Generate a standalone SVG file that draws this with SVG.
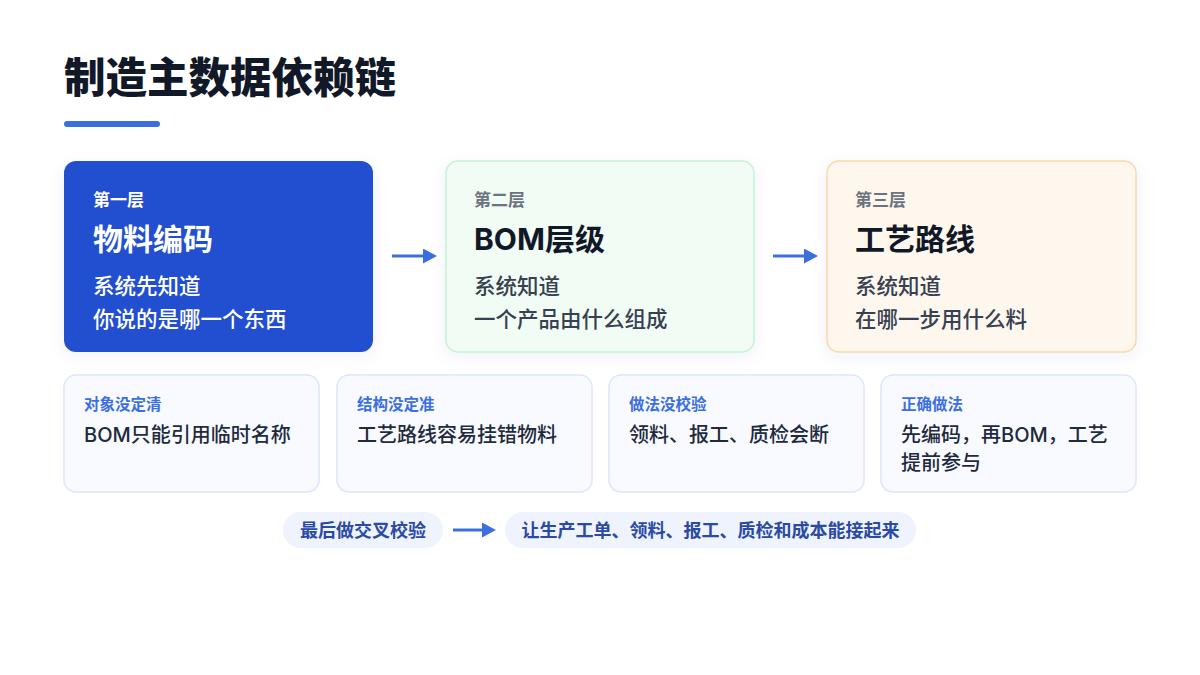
<svg xmlns="http://www.w3.org/2000/svg" width="1200" height="675" viewBox="0 0 1200 675">
<defs>
<style>
text{font-family:"Inter","Noto Sans CJK SC",sans-serif;}
.cjk{font-family:"Noto Sans CJK SC",sans-serif;}
.title{font-size:41.5px;font-weight:900;fill:#111827;}
.lvl{font-size:17px;font-weight:700;}
.head{font-size:30px;font-weight:700;}
.body{font-size:21.5px;font-weight:500;}
.clabel{font-size:15.5px;font-weight:700;fill:#3b6fe0;}
.cbody{font-size:20px;font-weight:500;fill:#1f2a3d;}
.card{fill:#f8faff;stroke:#dbe6fb;stroke-width:1.5;}
.pill{fill:#eef3fd;}
.ptext{font-size:18px;font-weight:700;fill:#2a4aa3;}
.conn{stroke:#3b6fe0;stroke-width:3;fill:none;}
</style>
<marker id="ah" markerWidth="14" markerHeight="15" refX="0" refY="7.5" orient="auto" markerUnits="userSpaceOnUse">
<path d="M0,0 L14,7.5 L0,15 Z" fill="#3b6fe0"/>
</marker>
<filter id="sh" x="-10%" y="-10%" width="120%" height="130%">
<feDropShadow dx="0" dy="4" stdDeviation="8" flood-color="#1e3a8a" flood-opacity="0.06"/>
</filter>
</defs>
<rect width="1200" height="675" fill="#ffffff"/>
<g id="title">
<text class="title cjk" x="64" y="93">制造主数据依赖链</text>
<rect x="64" y="121" width="96" height="6" rx="3" fill="#3b6fe0"/>
</g>
<g id="node-layer1">
<rect x="64" y="161" width="309" height="191" rx="12" fill="#2350cf" filter="url(#sh)"/>
<text class="lvl cjk" x="93" y="206" fill="#ffffff">第一层</text>
<text class="head cjk" x="93" y="250" fill="#ffffff">物料编码</text>
<text class="body cjk" x="93" y="294" fill="#ffffff">系统先知道</text>
<text class="body cjk" x="93" y="327" fill="#ffffff">你说的是哪一个东西</text>
</g>
<g id="node-layer2">
<rect x="446" y="161" width="308" height="191" rx="12" fill="#f1fcf4" stroke="#c6f2d2" stroke-width="1.5" filter="url(#sh)"/>
<text class="lvl cjk" x="474" y="206" fill="#6b7280">第二层</text>
<text class="head" x="474" y="250" fill="#111827">BOM层级</text>
<text class="body cjk" x="474" y="294" fill="#374151">系统知道</text>
<text class="body cjk" x="474" y="327" fill="#374151">一个产品由什么组成</text>
</g>
<g id="node-layer3">
<rect x="827" y="161" width="309" height="191" rx="12" fill="#fef7ee" stroke="#fbd7ab" stroke-width="1.5" filter="url(#sh)"/>
<text class="lvl cjk" x="855" y="206" fill="#6b7280">第三层</text>
<text class="head cjk" x="855" y="250" fill="#111827">工艺路线</text>
<text class="body cjk" x="855" y="294" fill="#374151">系统知道</text>
<text class="body cjk" x="855" y="327" fill="#374151">在哪一步用什么料</text>
</g>
<g id="card1">
<rect class="card" x="64" y="375" width="255" height="117" rx="12"/>
<text class="clabel cjk" x="84" y="410">对象没定清</text>
<text class="cbody" x="84" y="442">BOM只能引用临时名称</text>
</g>
<g id="card2">
<rect class="card" x="337" y="375" width="255" height="117" rx="12"/>
<text class="clabel cjk" x="357" y="410">结构没定准</text>
<text class="cbody cjk" x="357" y="442">工艺路线容易挂错物料</text>
</g>
<g id="card3">
<rect class="card" x="609" y="375" width="255" height="117" rx="12"/>
<text class="clabel cjk" x="629" y="410">做法没校验</text>
<text class="cbody cjk" x="629" y="442">领料、报工、质检会断</text>
</g>
<g id="card4">
<rect class="card" x="881" y="375" width="255" height="117" rx="12"/>
<text class="clabel cjk" x="901" y="410">正确做法</text>
<text class="cbody" x="901" y="442">先编码，再BOM，工艺</text>
<text class="cbody cjk" x="901" y="470">提前参与</text>
</g>
<g id="pill1">
<rect class="pill" x="283" y="512" width="160" height="36" rx="18"/>
<text class="ptext cjk" x="363" y="536.5" text-anchor="middle">最后做交叉校验</text>
</g>
<g id="pill2">
<rect class="pill" x="505" y="512" width="411" height="36" rx="18"/>
<text class="ptext cjk" x="710.5" y="536.5" text-anchor="middle">让生产工单、领料、报工、质检和成本能接起来</text>
</g>
<g id="connectors">
<line class="conn" x1="392" y1="256" x2="423" y2="256" marker-end="url(#ah)"/>
<line class="conn" x1="773" y1="256" x2="804" y2="256" marker-end="url(#ah)"/>
<line class="conn" x1="453" y1="530" x2="482" y2="530" marker-end="url(#ah)"/>
</g>
</svg>
